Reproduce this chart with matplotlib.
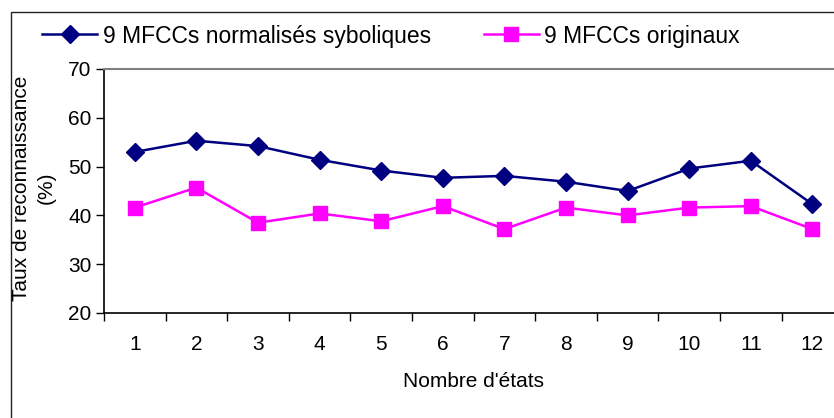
import matplotlib
matplotlib.use('Agg')
import matplotlib.pyplot as plt
from matplotlib.patches import Rectangle

plt.rcParams['font.family'] = ['Liberation Sans', 'DejaVu Sans']

etats = [1, 2, 3, 4, 5, 6, 7, 8, 9, 10, 11, 12]
mfcc_symb = [53.0, 55.3, 54.2, 51.4, 49.2, 47.7, 48.1, 46.9, 45.0, 49.6, 51.2, 42.3]
mfcc_orig = [41.6, 45.7, 38.5, 40.4, 38.8, 41.9, 37.2, 41.6, 40.0, 41.6, 41.9, 37.2]
y_ticks = [20, 30, 40, 50, 60, 70]

W, H = 834, 418
fig = plt.figure(figsize=(W / 100, H / 100), dpi=100)

# cadre exterieur (comme le graphique Excel)
fig.patches.append(Rectangle((11 / W, -0.05), 1.1, 1 - 12 / H + 0.05,
                             transform=fig.transFigure, fill=False,
                             edgecolor='#222222', linewidth=1.0))

ax = fig.add_axes([104 / W, 1 - 313 / H, 739.2 / W, 244 / H])

ax.plot(etats, mfcc_symb, color='#000080', marker='D', markersize=9,
        linewidth=1.8, label='9 MFCCs normalisés syboliques')
ax.plot(etats, mfcc_orig, color='#FF00FF', marker='s', markersize=9.5,
        linewidth=1.8, label='9 MFCCs originaux')

ax.set_xlim(0.5, 12.5)
ax.set_ylim(20, 70)
ax.set_yticks(y_ticks)
ax.set_xticks(etats)
ax.set_xticks([e - 0.5 for e in etats] + [12.5], minor=True)
ax.tick_params(axis='x', which='major', length=0, pad=16, labelsize=15)
ax.tick_params(axis='x', which='minor', length=6, width=1, direction='out')
ax.tick_params(axis='y', length=6, width=1, direction='out', pad=3, labelsize=15)

for s in ['top', 'right']:
    ax.spines[s].set_color('#808080')
    ax.spines[s].set_linewidth(1.5)
for s in ['left', 'bottom']:
    ax.spines[s].set_color('black')
    ax.spines[s].set_linewidth(1.2)

ax.set_xlabel("Nombre d'états", fontsize=15, labelpad=13)
fig.text(22 / W, 1 - 188 / H, 'Taux de reconnaissance', rotation=90,
         fontsize=15, ha='center', va='center')
fig.text(46 / W, 1 - 188 / H, '(%)', rotation=90,
         fontsize=15, ha='center', va='center')

ax.legend(loc='center left', bbox_to_anchor=(42 / W, 1 - 36 / H),
          bbox_transform=fig.transFigure, ncol=2, frameon=False,
          fontsize=16.5, numpoints=1, handlelength=2.4, handletextpad=0.25,
          columnspacing=2.3, borderpad=0, borderaxespad=0)

fig.savefig('out.png', dpi=100)
